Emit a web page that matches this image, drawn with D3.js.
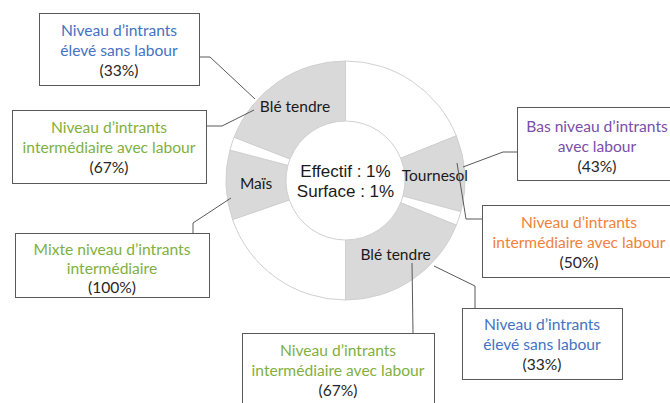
<!DOCTYPE html>
<html>
<head>
<meta charset="utf-8">
<script src="https://cdn.jsdelivr.net/npm/d3@7"></script>
<style>
  body { margin: 0; background: #fff; }
  svg { display: block; }
</style>
</head>
<body>
<svg id="chart" width="670" height="403"></svg>
<script>
// donut slices, clockwise from 12 o'clock (share of the ring, %)
const sliceNames = ["", "Tournesol", "", "Blé tendre", "", "Maïs", "", "Blé tendre"];
const sliceValues = [18.9, 10.3, 1.9, 18.9, 19.7, 9.4, 1.8, 19.1];
const sliceFilled = [false, true, false, true, false, true, false, true];

const centerLines = ["Effectif : 1%", "Surface : 1%"];

// call-out boxes
const noteLines = [
  ["Niveau d\u2019intrants", "élevé sans labour"],
  ["Niveau d\u2019intrants", "intermédiaire avec labour"],
  ["Bas niveau d\u2019intrants", "avec labour"],
  ["Niveau d\u2019intrants", "intermédiaire avec labour"],
  ["Niveau d\u2019intrants", "élevé sans labour"],
  ["Niveau d\u2019intrants", "intermédiaire avec labour"],
  ["Mixte niveau d\u2019intrants", "intermédiaire"]
];
const notePercents = ["(33%)", "(67%)", "(43%)", "(50%)", "(33%)", "(67%)", "(100%)"];
const noteKinds = ["blue", "green", "purple", "orange", "blue", "green", "green"];

const kindColor = { blue: "#4472c4", green: "#7fb041", purple: "#7a4fa8", orange: "#f0823c" };

// box layout: x, y, w, h, first baseline offset, line gap
const boxes = [
  [39, 13, 160, 72, 23, 20],
  [12, 110, 194, 73, 23, 20],
  [517, 107, 160, 73, 25, 20],
  [482, 205, 194, 72, 23, 20],
  [462, 308, 160, 71, 22, 20],
  [242, 333, 192, 75, 23, 20],
  [15, 233, 194, 64, 22, 19]
];
// leader lines from box to slice
const leaders = [
  [[199, 57], [210, 57], [255, 99]],
  [[206, 126], [222, 126], [254, 110]],
  [[517, 152], [503, 152], [463, 167]],
  [[482, 219], [466, 219], [457, 163]],
  [[475, 308], [475, 286], [434, 266]],
  [[413, 333], [412, 263]],
  [[193, 233], [193, 223], [231, 198]]
];

const svg = d3.select("#chart");
const cx = 345.5, cy = 180.5, rOuter = 119.5, rInner = 59.5;

const pie = d3.pie().sort(null).value(d => d.value);
const arc = d3.arc().innerRadius(rInner).outerRadius(rOuter);
const slices = pie(sliceValues.map((v, i) => ({ value: v, name: sliceNames[i], filled: sliceFilled[i] })));

const g = svg.append("g").attr("transform", `translate(${cx},${cy})`);

g.selectAll("path.slice")
  .data(slices)
  .enter().append("path")
  .attr("class", "slice")
  .attr("d", arc)
  .attr("fill", d => d.data.filled ? "#d9d9d9" : "#ffffff")
  .attr("stroke", "#d0d0d0")
  .attr("stroke-width", 1);

g.selectAll("text.slice-label")
  .data(slices.filter(d => d.data.name))
  .enter().append("text")
  .attr("class", "slice-label")
  .attr("transform", d => `translate(${arc.centroid(d)})`)
  .attr("text-anchor", "middle")
  .attr("dy", "0.35em")
  .style("font-family", "Lato, 'Open Sans', sans-serif")
  .style("font-size", "15.5px")
  .attr("fill", "#1a1a1a")
  .text(d => d.data.name);

g.selectAll("text.center")
  .data(centerLines)
  .enter().append("text")
  .attr("class", "center")
  .attr("x", 0)
  .attr("y", (d, i) => -3.5 + i * 20)
  .attr("text-anchor", "middle")
  .style("font-family", "'Liberation Sans', Arial, sans-serif")
  .style("font-size", "17px")
  .attr("fill", "#1a1a1a")
  .text(d => d);

// leaders
const line = d3.line();
svg.selectAll("path.leader")
  .data(leaders)
  .enter().append("path")
  .attr("class", "leader")
  .attr("d", line)
  .attr("fill", "none")
  .attr("stroke", "#595959")
  .attr("stroke-width", 1);

// boxes
const notes = svg.selectAll("g.note")
  .data(boxes.map((b, i) => ({ b, lines: noteLines[i], pct: notePercents[i], color: kindColor[noteKinds[i]] })))
  .enter().append("g")
  .attr("class", "note");

notes.append("rect")
  .attr("x", d => d.b[0] + 0.5)
  .attr("y", d => d.b[1] + 0.5)
  .attr("width", d => d.b[2])
  .attr("height", d => d.b[3])
  .attr("fill", "#fff")
  .attr("stroke", "#595959")
  .attr("stroke-width", 1);

notes.each(function(d) {
  const sel = d3.select(this);
  const mx = d.b[0] + d.b[2] / 2;
  const rows = d.lines.map(t => ({ t, c: d.color })).concat([{ t: d.pct, c: "#262626" }]);
  sel.selectAll("text")
    .data(rows)
    .enter().append("text")
    .attr("x", mx)
    .attr("y", (r, i) => d.b[1] + d.b[4] + i * d.b[5])
    .attr("text-anchor", "middle")
    .style("font-family", "Lato, 'Open Sans', sans-serif")
    .style("font-size", "15.6px")
    .attr("fill", r => r.c)
    .text(r => r.t);
});
</script>
</body>
</html>
